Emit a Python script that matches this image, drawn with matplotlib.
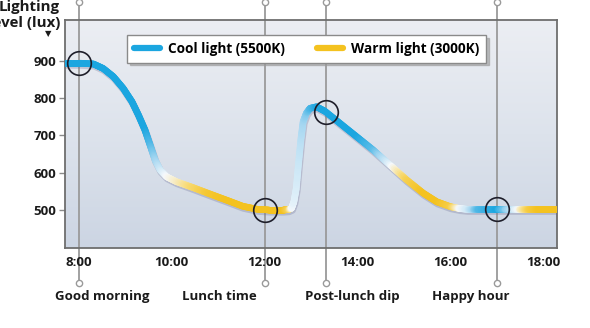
import numpy as np
import matplotlib
matplotlib.use("Agg")
import matplotlib.pyplot as plt
from matplotlib.collections import LineCollection
from matplotlib.colors import LinearSegmentedColormap
from matplotlib.lines import Line2D
import matplotlib.transforms as mtransforms

plt.rcParams['font.family'] = ['Open Sans', 'DejaVu Sans']
plt.rcParams['font.weight'] = 'bold'

# Lighting level over the working day (hour of day, lux)
hours = [7.70, 8.02, 8.31, 8.52, 8.74, 8.95, 9.14, 9.28, 9.42, 9.53, 9.64,
         9.75, 9.89, 10.10, 10.46, 10.82, 11.19, 11.53, 11.84, 12.10, 12.40,
         12.51, 12.58, 12.63, 12.68, 12.73, 12.78, 12.83, 12.90, 12.98, 13.12,
         13.30, 13.62, 13.98, 14.34, 14.70, 15.06, 15.42, 15.71, 16.00, 16.20,
         16.36, 16.60, 17.00, 17.45, 17.70, 17.90, 18.30]
lux = [894, 894, 892, 880, 858, 827, 791, 755, 715, 675, 634,
       607, 589, 576, 560, 543, 526, 510, 502, 500, 500,
       501, 505, 522, 557, 625, 688, 737, 760, 773, 777,
       765, 733, 697, 661, 621, 581, 545, 522, 509, 504,
       502, 502, 502, 502, 502, 502, 502]
# Colour temperature along the curve: 0 = cool, 0.5 = neutral, 1 = warm
warmth = [0.0, 0.0, 0.0, 0.0, 0.0, 0.0, 0.0, 0.0, 0.0, 0.1, 0.25,
          0.38, 0.5, 0.6, 0.8, 0.95, 1.0, 1.0, 1.0, 1.0, 1.0,
          0.85, 0.5, 0.45, 0.42, 0.38, 0.33, 0.27, 0.2, 0.1, 0.02,
          0.0, 0.0, 0.0, 0.12, 0.45, 0.85, 1.0, 1.0, 0.9, 0.5,
          0.4, 0.1, 0.0, 0.5, 0.9, 1.0, 1.0]

# Moments of the day
event_hours = [8.0, 12.0, 13.33, 17.0]
event_lux = [894, 500, 763, 502]
event_names = ["Good morning", "Lunch time", "Post-lunch dip", "Happy hour"]
event_label_x = [8.5, 11.02, 13.88, 16.45]

x_ticks = [8, 10, 12, 14, 16, 18]
x_labels = ["8:00", "10:00", "12:00", "14:00", "16:00", "18:00"]
y_ticks = [500, 600, 700, 800, 900]

COOL = "#1ba6e0"
WHITE = "#f6f9fc"
WARM = "#f4c21f"
cmap = LinearSegmentedColormap.from_list("temp", [COOL, "#9fd4f0", WHITE, "#f8dc7a", WARM])

fig = plt.figure(figsize=(5.9, 3.28), dpi=100)
ax = fig.add_axes([65/590, 80/328, 492/590, 228/328])
ax.set_xlim(7.698, 18.30)
ax.set_ylim(398, 1010)

# background gradient
grad = np.linspace(0, 1, 256).reshape(-1, 1)
bg = LinearSegmentedColormap.from_list("bg", ["#ccd5e3", "#dde3ec", "#eceef3"])
ax.imshow(grad, cmap=bg, aspect="auto", origin="lower",
          extent=[7.698, 18.30, 398, 1010], zorder=0)

for s in ax.spines.values():
    s.set_color("#6e6e6e")
    s.set_linewidth(1.3)

# event guide lines running beyond the axes
for h in event_hours:
    ax.plot([h, h], [1058, 303], color="#9a9a9a", lw=1.3, clip_on=False, zorder=1)
    for yv in (1058, 303):
        ax.plot(h, yv, marker="o", ms=4.5, mfc="white", mec="#9a9a9a", mew=1.0,
                clip_on=False, zorder=2)

# curve: split each straight segment into short pieces so the shading is smooth
xs, ys, cs = [], [], []
for i in range(len(hours) - 1):
    t = np.linspace(0, 1, 12, endpoint=False)
    xs.extend(hours[i] + (hours[i+1] - hours[i]) * t)
    ys.extend(lux[i] + (lux[i+1] - lux[i]) * t)
    cs.extend(warmth[i] + (warmth[i+1] - warmth[i]) * t)
xs.append(hours[-1]); ys.append(lux[-1]); cs.append(warmth[-1])
xs, ys, cs = map(np.asarray, (xs, ys, cs))

shadow_tr = mtransforms.offset_copy(ax.transData, fig=fig, x=0.6, y=-1.4, units="points")
ax.plot(hours, lux, color="#6f6f96", alpha=0.3, lw=5.2, solid_capstyle="butt",
        solid_joinstyle="round", transform=shadow_tr, zorder=3)

pts = np.column_stack([xs, ys]).reshape(-1, 1, 2)
segs = np.concatenate([pts[:-1], pts[1:]], axis=1)
lc = LineCollection(segs, cmap=cmap, norm=plt.Normalize(0, 1), linewidths=4.8,
                    capstyle="round", joinstyle="round", zorder=4)
lc.set_array((cs[:-1] + cs[1:]) / 2)
ax.add_collection(lc)

# event markers
ax.plot(event_hours, event_lux, "o", ms=17, mfc="none", mec="#1e1e2a", mew=1.2, zorder=6)

# axes ticks
ax.set_xticks(x_ticks)
ax.set_xticklabels(x_labels)
ax.set_yticks(y_ticks)
ax.tick_params(axis="x", length=0, pad=6, labelsize=9.5)
ax.tick_params(axis="y", length=4, width=1, color="#8a8a8a", pad=2, labelsize=9.5)
for lab in ax.get_xticklabels() + ax.get_yticklabels():
    lab.set_fontweight("bold")
    lab.set_color("#1a1a1a")

for name, xl in zip(event_names, event_label_x):
    ax.text(xl, 267, name, ha="center", va="center", fontsize=9.5,
            fontweight="bold", color="#1a1a1a", clip_on=False)

fig.text(60/590, 1 - 7/328, "Lighting", ha="right", va="center",
         fontsize=10.8, fontweight="bold", color="#1a1a1a")
fig.text(60/590, 1 - 23/328, "level (lux)", ha="right", va="center",
         fontsize=10.8, fontweight="bold", color="#1a1a1a")
fig.text(48/590, 1 - 34/328, "\u25bc", ha="center", va="center", fontsize=6,
         family="DejaVu Sans", color="#1a1a1a")

handles = [Line2D([], [], color=COOL, lw=4.5, solid_capstyle="round"),
           Line2D([], [], color=WARM, lw=4.5, solid_capstyle="round")]
leg = ax.legend(handles, ["Cool light (5500K)", "Warm light (3000K)"], ncol=2,
                loc="upper left", bbox_to_anchor=(0.126, 0.934), borderaxespad=0,
                frameon=True, fancybox=False, shadow={"color": "#9a9a9a", "alpha": 0.6},
                edgecolor="#8a8a8a", framealpha=1, handlelength=1.9,
                handletextpad=0.6, columnspacing=2.4, borderpad=0.5,
                prop={"size": 9.8, "weight": "bold"})
leg.get_frame().set_linewidth(1.0)
leg.set_zorder(7)

fig.savefig("out.png", dpi=100)
